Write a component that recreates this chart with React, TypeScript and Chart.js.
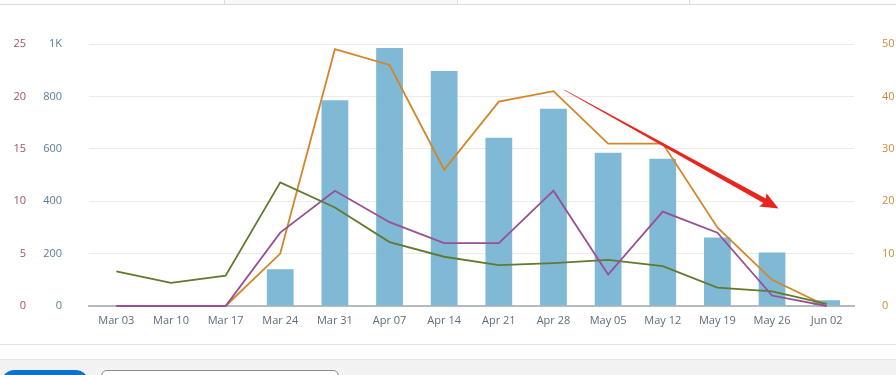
import React, { useEffect, useRef } from "react";
import { Chart, registerables } from "chart.js";

Chart.register(...registerables);

const categories = ["Mar 03", "Mar 10", "Mar 17", "Mar 24", "Mar 31", "Apr 07", "Apr 14", "Apr 21", "Apr 28", "May 05", "May 12", "May 19", "May 26", "Jun 02"];
const barValues = [0, 0, 0, 140, 785, 985, 897, 642, 753, 585, 562, 261, 204, 22];
const orangeValues = [0, 0, 0, 10, 49, 46, 26, 39, 41, 31, 31, 15, 5, 0];
const greenValues = [3.3, 2.2, 2.9, 11.8, 9.4, 6.1, 4.7, 3.9, 4.1, 4.4, 3.8, 1.75, 1.4, 0.2];
const purpleValues = [0, 0, 0, 7, 11, 8, 6, 6, 11, 3, 9, 7, 1, 0];

// arrow annotation in data coordinates: [category index, right-axis value]
const arrowStart = [8.2, 41.2];
const arrowEnd = [12.12, 18.6];

const arrowPlugin = {
  id: "arrowAnnotation",
  afterDatasetsDraw(chart: any) {
    const xs = chart.scales.x;
    const ys = chart.scales.yRight;
    const x1 = xs.getPixelForValue(arrowStart[0]);
    const y1 = ys.getPixelForValue(arrowStart[1]);
    const x2 = xs.getPixelForValue(arrowEnd[0]);
    const y2 = ys.getPixelForValue(arrowEnd[1]);
    const dx = x2 - x1, dy = y2 - y1;
    const len = Math.hypot(dx, dy);
    const ux = dx / len, uy = dy / len;
    const nx = -uy, ny = ux;
    const headLen = 16, headW = 7.5, shaftW = 2.6, startW = 0.3;
    const bx = x2 - ux * headLen, by = y2 - uy * headLen;
    const ctx = chart.ctx;
    ctx.save();
    ctx.fillStyle = "#e8261d";
    ctx.beginPath();
    ctx.moveTo(x1 + nx * startW, y1 + ny * startW);
    ctx.lineTo(bx + nx * shaftW, by + ny * shaftW);
    ctx.lineTo(bx - ux * 2 + nx * headW, by - uy * 2 + ny * headW);
    ctx.lineTo(x2, y2);
    ctx.lineTo(bx - ux * 2 - nx * headW, by - uy * 2 - ny * headW);
    ctx.lineTo(bx - nx * shaftW, by - ny * shaftW);
    ctx.lineTo(x1 - nx * startW, y1 - ny * startW);
    ctx.closePath();
    ctx.fill();
    ctx.restore();
  },
};

const FONT = { family: "'Open Sans', sans-serif", size: 11 };

export default function App() {
  const ref = useRef<HTMLCanvasElement | null>(null);

  useEffect(() => {
    if (!ref.current) return;
    const chart = new Chart(ref.current, {
      type: "bar",
      data: {
        labels: categories,
        datasets: [
          {
            type: "line",
            data: purpleValues,
            yAxisID: "yRed",
            borderColor: "#984f93",
            borderWidth: 1.8,
            pointRadius: 0,
            tension: 0,
            clip: 4,
            order: 0,
          } as any,
          {
            type: "line",
            data: greenValues,
            yAxisID: "yRed",
            borderColor: "#617a2e",
            borderWidth: 1.8,
            pointRadius: 0,
            tension: 0,
            clip: 4,
            order: 1,
          } as any,
          {
            type: "line",
            data: orangeValues,
            yAxisID: "yRight",
            borderColor: "#d3862a",
            borderWidth: 1.8,
            pointRadius: 0,
            tension: 0,
            clip: 4,
            order: 2,
          } as any,
          {
            type: "bar",
            data: barValues,
            yAxisID: "yBlue",
            backgroundColor: "#80b9d6",
            barPercentage: 0.49,
            categoryPercentage: 1,
            order: 10,
          } as any,
        ],
      },
      options: {
        responsive: false,
        animation: false,
        devicePixelRatio: 1,
        layout: { padding: { top: 44, bottom: 5, left: 0, right: 0 } },
        plugins: { legend: { display: false }, tooltip: { enabled: false } },
        scales: {
          x: {
            grid: { display: false, drawTicks: false },
            border: { display: true, color: "#b5babe", width: 2 },
            ticks: { color: "#5f6b7a", font: FONT, padding: 8, maxRotation: 0, autoSkip: false },
            afterFit: (s: any) => { s.height = 30; },
          },
          yBlue: {
            position: "left",
            weight: 0,
            min: 0,
            max: 1000,
            grid: { color: "#e9ebed", drawTicks: false, lineWidth: 1 },
            border: { display: false },
            ticks: {
              stepSize: 200,
              color: "#5a7e96",
              font: FONT,
              padding: 27,
              callback: (v: any) => (v >= 1000 ? v / 1000 + "K" : String(v)),
            },
            afterFit: (s: any) => { s.width = 49; },
          },
          yRed: {
            position: "left",
            weight: 1,
            min: 0,
            max: 25,
            grid: { display: false, drawTicks: false },
            border: { display: false },
            ticks: { stepSize: 5, color: "#a4506c", font: FONT, padding: 14 },
            afterFit: (s: any) => { s.width = 40; },
          },
          yRight: {
            position: "right",
            min: 0,
            max: 50,
            grid: { display: false, drawTicks: false },
            border: { display: false },
            ticks: { stepSize: 10, color: "#d08a3c", font: FONT, padding: 28 },
            afterFit: (s: any) => { s.width = 42; },
          },
        },
      } as any,
      plugins: [arrowPlugin],
    });
    return () => chart.destroy();
  }, []);

  return (
    <div style={{ position: "fixed", left: 0, top: 0, width: 896, height: 375, background: "#fff", overflow: "hidden" }}>
      {/* top tabs strip */}
      <div style={{ position: "absolute", left: 225, top: 0, width: 232, height: 4, background: "#f6f7f7" }} />
      <div style={{ position: "absolute", left: 0, top: 4, width: 896, height: 1, background: "#d9dcdc" }} />
      <div style={{ position: "absolute", left: 224, top: 0, width: 1, height: 5, background: "#d9dcdc" }} />
      <div style={{ position: "absolute", left: 457, top: 0, width: 1, height: 5, background: "#d9dcdc" }} />
      <div style={{ position: "absolute", left: 689, top: 0, width: 1, height: 5, background: "#d9dcdc" }} />
      <canvas ref={ref} width={896} height={341} style={{ position: "absolute", left: 0, top: 0, width: 896, height: 341 }} />
      {/* bottom chrome */}
      <div style={{ position: "absolute", left: 0, top: 344, width: 896, height: 1, background: "#e4e4e4" }} />
      <div style={{ position: "absolute", left: 0, top: 359, width: 896, height: 16, background: "#f2f2f2", borderTop: "1px solid #e8e8e8" }} />
      <div style={{ position: "absolute", left: 0, top: 370, width: 90, height: 30, background: "#0972d3", borderRadius: 16 }} />
      <div style={{ position: "absolute", left: 101, top: 370, width: 238, height: 30, background: "#fff", border: "1px solid #8d8d94", borderRadius: 6, boxSizing: "border-box" }} />
    </div>
  );
}
